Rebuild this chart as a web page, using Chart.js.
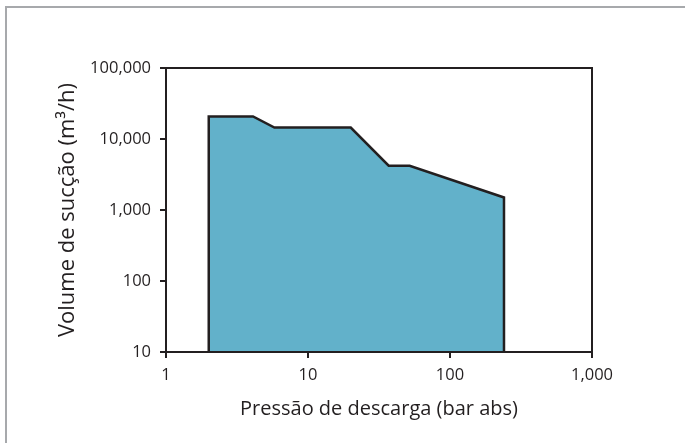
<!DOCTYPE html>
<html>
<head>
<meta charset="utf-8">
<script src="https://cdn.jsdelivr.net/npm/chart.js@4/dist/chart.umd.min.js"></script>
<style>
  html, body { margin: 0; padding: 0; background: #fff; overflow: hidden; }
  #wrap { position: relative; width: 685px; height: 443px; }
  #frame { position: absolute; left: 5px; top: 6px; width: 700px; height: 460px;
           border: 2px solid #a7a9ac; box-sizing: border-box; pointer-events: none; }
</style>
</head>
<body>
<div id="wrap">
  <canvas id="chart" width="685" height="443"></canvas>
  <div id="frame"></div>
</div>
<script>
// discharge pressure (bar abs) and suction volume (m3/h), outline of the envelope
var pressure = [2, 2, 4.1, 5.8, 20, 37, 52, 240, 240];
var volume = [10, 20800, 20800, 14500, 14500, 4200, 4200, 1500, 10];
var xTicks = [1, 10, 100, 1000];
var yTicks = [10, 100, 1000, 10000, 100000];

var txt = "#231f20";
var font = "'Open Sans', sans-serif";

var points = [];
for (var i = 0; i < pressure.length; i++) {
  points.push({ x: pressure[i], y: volume[i] });
}

// box around the plot area
var boxPlugin = {
  id: "box",
  afterDatasetsDraw: function (chart) {
    var a = chart.chartArea, c = chart.ctx;
    c.save();
    c.strokeStyle = txt;
    c.lineWidth = 2;
    c.strokeRect(a.left, a.top, a.right - a.left, a.bottom - a.top);
    c.restore();
  }
};

new Chart(document.getElementById("chart"), {
  type: "line",
  data: {
    datasets: [{
      data: points,
      borderColor: txt,
      borderWidth: 2.5,
      backgroundColor: "#62b1ca",
      fill: "start",
      pointRadius: 0,
      tension: 0
    }]
  },
  options: {
    responsive: false,
    animation: false,
    layout: { padding: { top: 68, right: 93, left: 0, bottom: 0 } },
    plugins: { legend: { display: false }, tooltip: { enabled: false } },
    scales: {
      x: {
        type: "logarithmic",
        min: 1,
        max: 1000,
        afterBuildTicks: function (s) { s.ticks = xTicks.map(function (v) { return { value: v }; }); },
        afterFit: function (s) { s.height = 91; },
        ticks: {
          color: txt,
          font: { family: font, size: 16.5 },
          padding: 7,
          maxRotation: 0,
          callback: function (v) { return Number(v).toLocaleString("en-US"); }
        },
        grid: { drawOnChartArea: false, drawTicks: true, tickLength: 6, color: txt, lineWidth: 2 },
        border: { color: txt, width: 2 },
        title: {
          display: true,
          text: "Pressão de descarga (bar abs)",
          color: txt,
          font: { family: font, size: 20 },
          padding: { top: 0, bottom: 22 }
        }
      },
      y: {
        type: "logarithmic",
        min: 10,
        max: 100000,
        afterBuildTicks: function (s) { s.ticks = yTicks.map(function (v) { return { value: v }; }); },
        afterFit: function (s) { s.width = 166; },
        ticks: {
          color: txt,
          font: { family: font, size: 16.5 },
          padding: 9,
          callback: function (v) { return Number(v).toLocaleString("en-US"); }
        },
        grid: { drawOnChartArea: false, drawTicks: true, tickLength: 6, color: txt, lineWidth: 2 },
        border: { color: txt, width: 2 },
        title: {
          display: true,
          text: "Volume de sucção (m³/h)",
          color: txt,
          font: { family: font, size: 22 },
          padding: { top: 55, bottom: 0 }
        }
      }
    }
  },
  plugins: [boxPlugin]
});
</script>
</body>
</html>
